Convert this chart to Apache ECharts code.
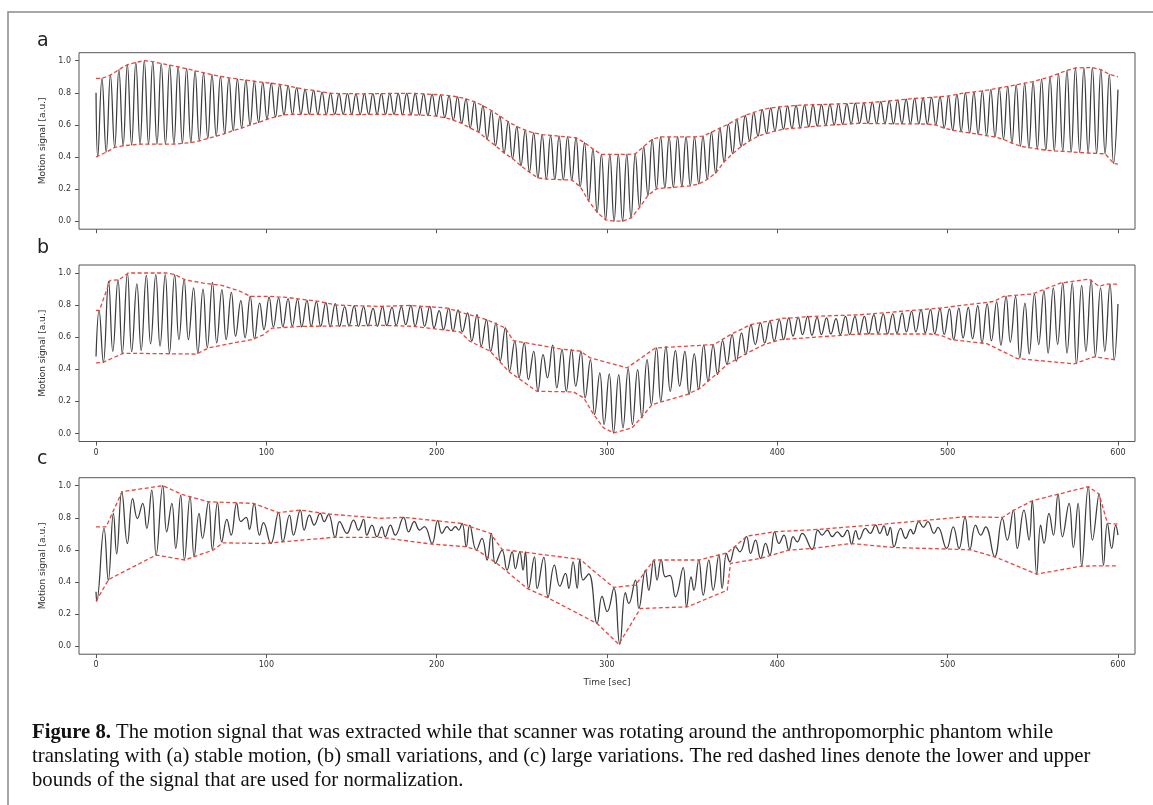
<!DOCTYPE html>
<html>
<head>
<meta charset="utf-8">
<script src="https://cdn.jsdelivr.net/npm/echarts@6/dist/echarts.min.js"></script>
<style>
  html, body { margin: 0; padding: 0; background: #fff; }
  #chart { width: 1153px; height: 805px; }
</style>
</head>
<body>
<div id="chart"></div>
<script>
// axis ticks
const xTicks = [0, 100, 200, 300, 400, 500, 600];
const yTicks = [0, 0.2, 0.4, 0.6, 0.8, 1.0];

// panel a: stable motion (one trough + one peak per breathing cycle)
const aStart = [0, 0.80];
const aEnd = [600, 0.82];
const aFirstTrough = 1;
const aPeriod = 4.97;
const aTroughs = [
  0.40, 0.43, 0.46, 0.47, 0.475, 0.48, 0.48, 0.48, 0.48, 0.48,
  0.485, 0.49, 0.50, 0.515, 0.53, 0.545, 0.565, 0.58, 0.60, 0.615,
  0.635, 0.65, 0.662, 0.665, 0.666, 0.665, 0.666, 0.664, 0.665, 0.666,
  0.665, 0.664, 0.666, 0.665, 0.666, 0.665, 0.664, 0.663, 0.661, 0.659,
  0.655, 0.645, 0.63, 0.61, 0.58, 0.555, 0.51, 0.47, 0.425, 0.39,
  0.345, 0.305, 0.27, 0.262, 0.26, 0.258, 0.256, 0.215, 0.125, 0.055,
  0.008, 0.0, 0.0, 0.02, 0.085, 0.16, 0.202, 0.207, 0.211, 0.216,
  0.22, 0.232, 0.26, 0.30, 0.37, 0.42, 0.465, 0.50, 0.53, 0.546,
  0.562, 0.573, 0.578, 0.582, 0.588, 0.592, 0.596, 0.60, 0.603, 0.607,
  0.61, 0.609, 0.608, 0.608, 0.607, 0.607, 0.606, 0.606, 0.605, 0.60,
  0.58, 0.566, 0.558, 0.55, 0.542, 0.533, 0.525, 0.51, 0.487, 0.467,
  0.458, 0.45, 0.443, 0.438, 0.435, 0.432, 0.428, 0.425, 0.422, 0.42,
  0.36
];
const aPeaks = [
  0.89, 0.91, 0.945, 0.975, 0.99, 1.0, 0.995, 0.982, 0.972, 0.962,
  0.95, 0.937, 0.925, 0.913, 0.903, 0.893, 0.886, 0.879, 0.872, 0.865,
  0.86, 0.853, 0.843, 0.832, 0.822, 0.815, 0.805, 0.798, 0.795, 0.795,
  0.794, 0.794, 0.795, 0.795, 0.796, 0.796, 0.796, 0.796, 0.794, 0.79,
  0.787, 0.782, 0.775, 0.762, 0.745, 0.72, 0.69, 0.655, 0.62, 0.59,
  0.567, 0.55, 0.54, 0.535, 0.53, 0.525, 0.52, 0.49, 0.45, 0.416,
  0.416, 0.416, 0.416, 0.42, 0.465, 0.51, 0.526, 0.526, 0.526, 0.526,
  0.526, 0.53, 0.555, 0.58, 0.605, 0.635, 0.66, 0.678, 0.695, 0.706,
  0.712, 0.717, 0.721, 0.724, 0.726, 0.727, 0.729, 0.731, 0.733, 0.735,
  0.737, 0.741, 0.745, 0.75, 0.755, 0.76, 0.765, 0.768, 0.772, 0.776,
  0.78, 0.79, 0.80, 0.805, 0.812, 0.82, 0.83, 0.84, 0.85, 0.86,
  0.87, 0.885, 0.90, 0.92, 0.94, 0.955, 0.957, 0.957, 0.945, 0.915
];
const aUpperEnds = [[0, 0.89], [600, 0.90]];
const aLowerEnds = [[0, 0.40], [600, 0.355]];

// panel b: small variations
const bStart = [0, 0.48];
const bEnd = [600, 0.807];
const bFirstPeak = 1.8;
const bPeriod = 5.547;
const bTroughLag = 2.5;
const bPeaks = [
  0.767, 0.948, 0.958, 1.0, 0.933, 0.985, 0.99, 0.99, 0.99, 0.96,
  0.907, 0.90, 0.942, 0.897, 0.88, 0.828, 0.855, 0.813, 0.85, 0.845,
  0.84, 0.838, 0.83, 0.822, 0.815, 0.81, 0.79, 0.795, 0.79, 0.78,
  0.79, 0.786, 0.79, 0.798, 0.79, 0.792, 0.765, 0.782, 0.77, 0.751,
  0.74, 0.709, 0.689, 0.658, 0.575, 0.564, 0.512, 0.492, 0.55, 0.523,
  0.523, 0.512, 0.46, 0.378, 0.371, 0.367, 0.404, 0.398, 0.46, 0.533,
  0.543, 0.516, 0.512, 0.496, 0.55, 0.55, 0.579, 0.616, 0.627, 0.678,
  0.689, 0.699, 0.709, 0.72, 0.724, 0.73, 0.724, 0.72, 0.716, 0.73,
  0.73, 0.73, 0.74, 0.745, 0.745, 0.751, 0.761, 0.772, 0.772, 0.778,
  0.776, 0.782, 0.786, 0.797, 0.807, 0.82, 0.855, 0.855, 0.813, 0.869,
  0.89, 0.907, 0.938, 0.938, 0.923, 0.958, 0.907, 0.931
];
const bTroughs = [
  0.444, 0.512, 0.50, 0.51, 0.517, 0.558, 0.544, 0.50, 0.585, 0.585,
  0.50, 0.535, 0.564, 0.585, 0.606, 0.596, 0.59, 0.647, 0.664, 0.665,
  0.667, 0.664, 0.667, 0.668, 0.665, 0.668, 0.67, 0.668, 0.67, 0.668,
  0.672, 0.674, 0.678, 0.668, 0.668, 0.658, 0.647, 0.637, 0.633, 0.575,
  0.543, 0.512, 0.45, 0.388, 0.347, 0.336, 0.263, 0.347, 0.284, 0.263,
  0.295, 0.222, 0.118, 0.056, 0.004, 0.035, 0.056, 0.097, 0.18, 0.2,
  0.263, 0.295, 0.243, 0.274, 0.326, 0.367, 0.43, 0.45, 0.492, 0.554,
  0.564, 0.575, 0.585, 0.606, 0.616, 0.612, 0.616, 0.62, 0.616, 0.616,
  0.616, 0.62, 0.624, 0.62, 0.624, 0.633, 0.633, 0.627, 0.62, 0.616,
  0.585, 0.595, 0.59, 0.564, 0.578, 0.55, 0.57, 0.471, 0.496, 0.554,
  0.501, 0.556, 0.501, 0.434, 0.512, 0.481, 0.512, 0.46
];
const bUpper = [
  [0, 0.767], [2, 0.767], [8.2, 0.954], [13.5, 0.958], [19, 1.0], [41.5, 1.0],
  [46.4, 0.99], [52.3, 0.958], [63, 0.937], [73.8, 0.923], [80.7, 0.9], [84.6, 0.886],
  [90.5, 0.855], [101, 0.855], [112, 0.848], [131, 0.823], [141, 0.80], [166.7, 0.792],
  [184.3, 0.798], [206, 0.782], [215.7, 0.751], [229.4, 0.709], [240.2, 0.658], [245, 0.579],
  [272.5, 0.527], [284.3, 0.513], [290.2, 0.471], [311.8, 0.409], [328.4, 0.533], [362.7, 0.554],
  [372.5, 0.616], [384.3, 0.678], [402, 0.716], [421.6, 0.73], [449, 0.74], [495.9, 0.782],
  [527.2, 0.823], [533, 0.855], [549.7, 0.869], [566.4, 0.938], [583, 0.962], [588.9, 0.917],
  [593.8, 0.931], [599.7, 0.931]
];
const bLower = [
  [0, 0.44], [4.3, 0.444], [16, 0.50], [59, 0.495], [66, 0.533], [80.7, 0.564],
  [91.5, 0.585], [98.3, 0.615], [103.2, 0.656], [120, 0.667], [166.7, 0.674], [186.3, 0.668],
  [213.7, 0.633], [219.6, 0.574], [231.4, 0.513], [242.2, 0.388], [258.8, 0.263], [280.4, 0.259],
  [286.3, 0.222], [292.2, 0.118], [298, 0.035], [303.9, 0.003], [314.7, 0.035], [321.6, 0.118],
  [326.5, 0.18], [347, 0.243], [354.9, 0.284], [370.6, 0.43], [382.4, 0.502], [392.2, 0.554],
  [402, 0.585], [449, 0.62], [490, 0.62], [495.9, 0.612], [502, 0.585], [523, 0.56],
  [540.9, 0.467], [574.2, 0.434], [586, 0.478], [599.7, 0.457]
];

// panel c: large variations (irregular, times read per extremum)
const cTimes = [
  0, 0.4, 4.7, 7.2, 10.2, 12.1, 15.1, 18.4, 21.5, 24.3, 27.4, 29.8, 32.7, 35.3, 39.2, 41.5,
  44.5, 46.8, 49.7, 51.9, 55.2, 57.6, 60.5, 62.5, 66, 68.3, 71.3, 73.8, 76.8, 79.3, 82.6, 85,
  88.1, 90.1, 92.8, 96, 98.3, 102.6, 107.1, 109.7, 113.6, 115.9, 119.9, 122.2, 125.3, 128.1, 131.6, 134,
  136.5, 140.4, 143, 147.3, 151.2, 154.1, 157.1, 159, 162, 164.9, 167.8, 169.8, 172.8, 175.7, 180.6, 183.5,
  186.9, 190, 192.8, 197.3, 200.6, 203.1, 206.1, 208.4, 211, 212.9, 214.9, 217.4, 219.4, 223.3, 226.6, 229.6,
  232.1, 234.5, 238.4, 241.3, 244.3, 246.2, 248.8, 250.7, 252.1, 254, 257.4, 259, 262.9, 265.4, 269.1, 272.3,
  275.6, 277.6, 280.1, 282.5, 284, 286, 289.3, 294.2, 297.1, 300.1, 304, 307.5, 310.8, 312.8, 316.7, 318.7,
  322.6, 324.5, 327.5, 329.4, 331.8, 334.3, 336.9, 340.2, 344.7, 346.7, 349.4, 351, 353.9, 356.5, 359.8, 362.3,
  365.7, 367.6, 370.2, 372.1, 375.5, 378, 381.9, 384.3, 387.2, 390.2, 393.1, 395.6, 398.4, 400.9, 403.9, 406.8,
  409.3, 411.7, 414.6, 420.5, 423.8, 426.3, 429.3, 432.2, 435.2, 438.2, 441.1, 443.6, 446, 448, 451.8, 454.5,
  457.7, 460.2, 462.6, 464.6, 466.3, 468.5, 472.4, 475.3, 478.3, 479.8, 483.1, 485.8, 488.4, 492, 494.3, 499.4,
  503.3, 506.7, 510.2, 513.1, 516.4, 519.4, 522.3, 527.6, 532.1, 535, 538.6, 540.9, 544.8, 547.8, 549.7, 552.3,
  554.6, 556.6, 559.5, 562.1, 564.8, 567.4, 571.3, 573.8, 576.6, 578.7, 582.6, 585, 588.9, 591.5, 593.8, 596.3,
  598.7, 600
];
const cValues = [
  0.339, 0.28, 0.734, 0.41, 0.828, 0.575, 0.963, 0.64, 0.92, 0.795, 0.89, 0.734, 0.973, 0.568, 1.0, 0.713,
  0.89, 0.61, 0.942, 0.538, 0.932, 0.558, 0.828, 0.672, 0.9, 0.603, 0.895, 0.65, 0.79, 0.692, 0.89, 0.776,
  0.803, 0.728, 0.89, 0.692, 0.77, 0.64, 0.832, 0.65, 0.817, 0.692, 0.848, 0.723, 0.817, 0.755, 0.828, 0.776,
  0.822, 0.678, 0.776, 0.703, 0.786, 0.723, 0.79, 0.692, 0.755, 0.682, 0.744, 0.682, 0.755, 0.692, 0.803, 0.713,
  0.776, 0.724, 0.745, 0.64, 0.782, 0.703, 0.745, 0.72, 0.745, 0.724, 0.766, 0.62, 0.755, 0.599, 0.672, 0.537,
  0.703, 0.516, 0.599, 0.474, 0.588, 0.484, 0.588, 0.474, 0.588, 0.36, 0.557, 0.36, 0.553, 0.304, 0.505, 0.374,
  0.453, 0.36, 0.526, 0.36, 0.54, 0.412, 0.45, 0.141, 0.31, 0.215, 0.36, 0.012, 0.333, 0.266, 0.412, 0.235,
  0.474, 0.349, 0.537, 0.412, 0.54, 0.432, 0.442, 0.308, 0.49, 0.245, 0.432, 0.349, 0.537, 0.318, 0.537, 0.349,
  0.567, 0.36, 0.578, 0.526, 0.62, 0.588, 0.682, 0.578, 0.661, 0.547, 0.64, 0.567, 0.713, 0.64, 0.692, 0.599,
  0.682, 0.65, 0.703, 0.603, 0.724, 0.692, 0.724, 0.682, 0.713, 0.682, 0.724, 0.636, 0.72, 0.666, 0.734, 0.703,
  0.755, 0.703, 0.75, 0.69, 0.74, 0.62, 0.734, 0.672, 0.728, 0.70, 0.776, 0.74, 0.776, 0.703, 0.74, 0.609,
  0.744, 0.609, 0.802, 0.603, 0.755, 0.692, 0.744, 0.557, 0.796, 0.661, 0.848, 0.609, 0.848, 0.661, 0.906, 0.449,
  0.755, 0.64, 0.827, 0.692, 0.948, 0.682, 0.89, 0.615, 0.89, 0.499, 0.994, 0.661, 0.948, 0.505, 0.765, 0.609,
  0.755, 0.692
];
const cUpper = [
  [0, 0.744], [5.9, 0.744], [15.3, 0.963], [39.2, 1.0], [50.5, 0.946], [66, 0.9], [92.4, 0.89],
  [107.1, 0.832], [119.9, 0.848], [137.5, 0.823], [166.9, 0.797], [180.6, 0.803], [213.9, 0.766],
  [231.5, 0.703], [238.4, 0.603], [284.4, 0.541], [290.3, 0.485], [304, 0.366], [316.7, 0.381],
  [327.5, 0.537], [353.9, 0.537], [370.6, 0.582], [382.3, 0.686], [398.4, 0.713], [424.4, 0.728],
  [460.7, 0.759], [510.6, 0.807], [532.1, 0.802], [539, 0.848], [549.7, 0.906], [564.4, 0.946],
  [582.6, 0.994], [588.9, 0.948], [593.8, 0.765], [600, 0.761]
];
const cLower = [
  [0, 0.28], [7.4, 0.416], [35.3, 0.568], [52.1, 0.537], [68.9, 0.6], [74.4, 0.644], [98.3, 0.64],
  [139.4, 0.678], [166.9, 0.678], [197.3, 0.636], [216.8, 0.62], [223.7, 0.599], [235.4, 0.516],
  [253.1, 0.36], [264.8, 0.304], [294.2, 0.141], [306.9, 0.012], [319.6, 0.235], [347.1, 0.245],
  [370.6, 0.349], [372.5, 0.516], [390.2, 0.547], [406.8, 0.599], [420.5, 0.609], [443.1, 0.64],
  [468.5, 0.615], [506.7, 0.603], [513.5, 0.6], [527.6, 0.557], [552.3, 0.449], [578.7, 0.499],
  [591.8, 0.501], [600, 0.501]
];

// build point lists from the arrays above
const aSignal = [aStart];
const aUpper = [aUpperEnds[0]];
const aLower = [aLowerEnds[0]];
aTroughs.forEach(function (v, k) {
  const t = aFirstTrough + k * aPeriod;
  aSignal.push([t, v]);
  aLower.push([t, v]);
  if (k < aPeaks.length) {
    aSignal.push([t + aPeriod / 2, aPeaks[k]]);
    aUpper.push([t + aPeriod / 2, aPeaks[k]]);
  }
});
aSignal.push(aEnd);
aUpper.push(aUpperEnds[1]);
aLower.push(aLowerEnds[1]);

const bSignal = [bStart];
bPeaks.forEach(function (v, j) {
  const t = bFirstPeak + j * bPeriod;
  bSignal.push([t, v]);
  bSignal.push([t + bTroughLag, bTroughs[j]]);
});
bSignal.push(bEnd);

const cSignal = cTimes.map(function (t, i) { return [t, cValues[i]]; });

const chart = echarts.init(document.getElementById('chart'));

const gridTops = [52.7, 265, 477.7];
const tickFont = { fontFamily: 'DejaVu Sans', fontSize: 8, color: '#333' };

function makeGrid(i) {
  return {
    left: 79, width: 1056, top: gridTops[i], height: 176.5,
    show: true, borderColor: '#555', borderWidth: 1,
    outerBoundsMode: 'none', containLabel: false,
  };
}

function makeXAxis(i) {
  return {
    type: 'value', gridIndex: i, min: -10, max: 610,
    axisLine: { show: false, onZero: false },
    splitLine: { show: false },
    axisTick: { show: true, inside: false, customValues: xTicks, length: 4, lineStyle: { color: '#555' } },
    axisLabel: Object.assign({ show: i > 0, customValues: xTicks, margin: 7 }, tickFont),
    name: i === 2 ? 'Time [sec]' : '',
    nameLocation: 'middle', nameGap: 24,
    nameTextStyle: { fontFamily: 'DejaVu Sans', fontSize: 9, color: '#333' },
  };
}

function makeYAxis(i) {
  return {
    type: 'value', gridIndex: i, min: -0.05, max: 1.05,
    axisLine: { show: false, onZero: false },
    splitLine: { show: false },
    axisTick: { show: true, inside: false, customValues: yTicks, length: 4, lineStyle: { color: '#555' } },
    axisLabel: Object.assign({
      customValues: yTicks, margin: 8,
      formatter: function (v) { return v.toFixed(1); },
    }, tickFont),
    name: 'Motion signal [a.u.]',
    nameLocation: 'middle', nameGap: 32,
    nameTextStyle: { fontFamily: 'DejaVu Sans', fontSize: 9, color: '#333' },
  };
}

function signalSeries(i, data) {
  return {
    type: 'line', xAxisIndex: i, yAxisIndex: i, data: data,
    showSymbol: false, smooth: 0.45, z: 2,
    lineStyle: { color: '#3c3c3c', width: 1.25 },
  };
}

function envelopeSeries(i, data) {
  return {
    type: 'line', xAxisIndex: i, yAxisIndex: i, data: data,
    showSymbol: false, z: 3,
    lineStyle: { color: '#e8463f', width: 1.3, type: [4, 2.5] },
  };
}

const captionFont = 'Liberation Serif';
const captionSize = 20.7;
const captionLines = [
  'translating with (a) stable motion, (b) small variations, and (c) large variations. The red dashed lines denote the lower and upper',
  'bounds of the signal that are used for normalization.',
];

const option = {
  animation: false,
  backgroundColor: '#fff',
  grid: [makeGrid(0), makeGrid(1), makeGrid(2)],
  xAxis: [makeXAxis(0), makeXAxis(1), makeXAxis(2)],
  yAxis: [makeYAxis(0), makeYAxis(1), makeYAxis(2)],
  series: [
    signalSeries(0, aSignal), envelopeSeries(0, aUpper), envelopeSeries(0, aLower),
    signalSeries(1, bSignal), envelopeSeries(1, bUpper), envelopeSeries(1, bLower),
    signalSeries(2, cSignal), envelopeSeries(2, cUpper), envelopeSeries(2, cLower),
  ],
  graphic: [
    {
      type: 'rect', shape: { x: 8, y: 12, width: 1160, height: 820 }, silent: true,
      style: { fill: 'none', stroke: '#8a8a8a', lineWidth: 1.5 },
    },
    { type: 'text', x: 37, y: 51, style: { text: 'a', fontFamily: 'DejaVu Sans', fontSize: 19, fill: '#222', textVerticalAlign: 'bottom' } },
    { type: 'text', x: 37, y: 258, style: { text: 'b', fontFamily: 'DejaVu Sans', fontSize: 19, fill: '#222', textVerticalAlign: 'bottom' } },
    { type: 'text', x: 37, y: 469, style: { text: 'c', fontFamily: 'DejaVu Sans', fontSize: 19, fill: '#222', textVerticalAlign: 'bottom' } },
    {
      type: 'text', x: 32, y: 733,
      style: {
        text: '{b|Figure 8.} The motion signal that was extracted while that scanner was rotating around the anthropomorphic phantom while',
        fontFamily: captionFont, fontSize: captionSize, fill: '#111', textVerticalAlign: 'middle',
        rich: { b: { fontFamily: captionFont, fontSize: captionSize, fontWeight: 'bold', fill: '#111' } },
      },
    },
    {
      type: 'text', x: 32, y: 757,
      style: { text: captionLines[0], fontFamily: captionFont, fontSize: captionSize, fill: '#111', textVerticalAlign: 'middle' },
    },
    {
      type: 'text', x: 32, y: 781,
      style: { text: captionLines[1], fontFamily: captionFont, fontSize: captionSize, fill: '#111', textVerticalAlign: 'middle' },
    },
  ],
};

chart.setOption(option);
</script>
</body>
</html>
